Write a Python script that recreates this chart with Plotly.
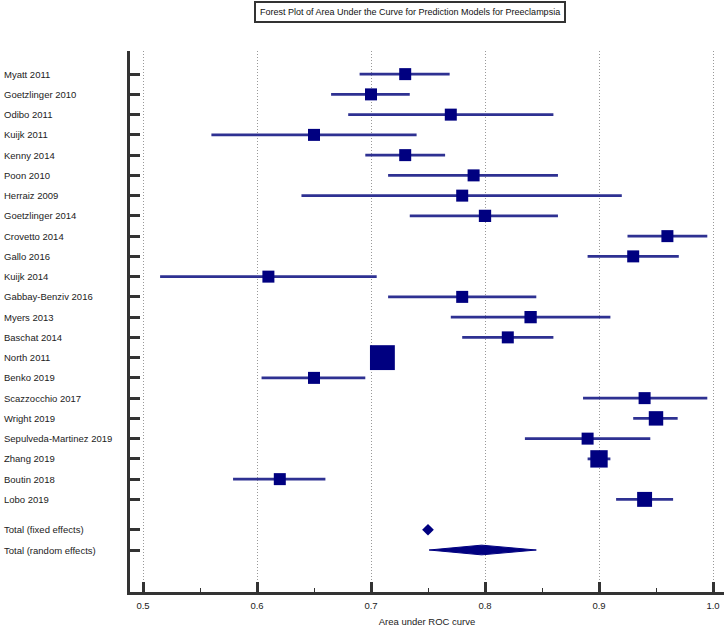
import plotly.graph_objects as go

studies = ["Myatt 2011", "Goetzlinger 2010", "Odibo 2011", "Kuijk 2011", "Kenny 2014",
           "Poon 2010", "Herraiz 2009", "Goetzlinger 2014", "Crovetto 2014", "Gallo 2016",
           "Kuijk 2014", "Gabbay-Benziv 2016", "Myers 2013", "Baschat 2014", "North 2011",
           "Benko 2019", "Scazzocchio 2017", "Wright 2019", "Sepulveda-Martinez 2019",
           "Zhang 2019", "Boutin 2018", "Lobo 2019"]
auc = [0.730, 0.700, 0.770, 0.650, 0.730, 0.790, 0.780, 0.800, 0.960, 0.930, 0.610,
       0.780, 0.840, 0.820, 0.710, 0.650, 0.940, 0.950, 0.890, 0.900, 0.620, 0.940]
ci_low = [0.690, 0.665, 0.680, 0.560, 0.695, 0.715, 0.639, 0.734, 0.925, 0.890, 0.515,
          0.715, 0.770, 0.780, 0.700, 0.604, 0.886, 0.930, 0.835, 0.890, 0.579, 0.915]
ci_high = [0.769, 0.734, 0.860, 0.740, 0.765, 0.864, 0.920, 0.864, 0.995, 0.970, 0.705,
           0.845, 0.910, 0.860, 0.720, 0.695, 0.995, 0.969, 0.945, 0.910, 0.660, 0.965]
weights = [1.0, 1.0, 1.0, 1.0, 1.0, 1.0, 1.0, 1.05, 1.0, 1.0, 1.0, 1.0, 1.05, 1.0, 4.3,
           1.0, 1.0, 1.45, 1.0, 2.1, 1.0, 1.55]

total_labels = ["Total (fixed effects)", "Total (random effects)"]
fixed_est = 0.750
random_est = 0.797
random_low = 0.751
random_high = 0.845

x_ticks = [0.5, 0.6, 0.7, 0.8, 0.9, 1.0]

# layout geometry
y_study = list(range(len(studies)))
y_fixed = len(studies) + 0.5
y_random = len(studies) + 1.5
all_y = y_study + [y_fixed, y_random]
all_labels = studies + total_labels

navy = "#000080"
line_col = "#2E3192"
font_family = "Liberation Sans, Arial"

fig = go.Figure()

# confidence interval lines (drawn first, below the boxes)
fig.add_trace(go.Scatter(
    x=auc, y=y_study, mode="markers",
    marker=dict(size=1, color="rgba(0,0,0,0)"),
    error_x=dict(type="data", symmetric=False,
                 array=[h - a for h, a in zip(ci_high, auc)],
                 arrayminus=[a - l for a, l in zip(auc, ci_low)],
                 width=0, thickness=2.8, color=line_col),
    showlegend=False, hoverinfo="skip"))

# study boxes
fig.add_trace(go.Scatter(
    x=auc, y=y_study, mode="markers",
    marker=dict(symbol="square", color=navy, opacity=1,
                size=[12 * w ** 0.5 for w in weights], line=dict(width=0)),
    showlegend=False, hoverinfo="skip"))

fig.add_trace(go.Scatter(
    x=[fixed_est], y=[y_fixed], mode="markers",
    marker=dict(symbol="diamond", color=navy, size=9, opacity=1),
    showlegend=False, hoverinfo="skip"))

h = 0.24
fig.add_trace(go.Scatter(
    x=[random_low, random_est, random_high, random_est, random_low],
    y=[y_random, y_random - h, y_random, y_random + h, y_random],
    mode="lines", fill="toself", fillcolor=navy, line=dict(color=navy, width=1),
    showlegend=False, hoverinfo="skip"))

L, R, T, B = 130, 4, 51, 35
W, H = 728, 631
px_per_x = 1140.0
x0 = 0.4886
x1 = x0 + (W - L - R) / px_per_x
px_per_row = 20.4
y_top = -(74.3 - T) / px_per_row
y_bot = (H - B - 74.3) / px_per_row
plot_w = W - L - R
plot_h = H - T - B

for lab, yy in zip(all_labels, all_y):
    fig.add_annotation(x=(2 - L) / plot_w, xref="paper", y=yy, yref="y",
                       text=lab, showarrow=False, xanchor="left", yanchor="middle",
                       font=dict(family=font_family, size=9.5, color="#222"))

fig.add_annotation(x=(409.5 - L) / plot_w, xref="paper",
                   y=(H - B - 12) / plot_h, yref="paper",
                   text="Forest Plot of Area Under the Curve for Prediction Models for Preeclampsia",
                   showarrow=False, xanchor="center", yanchor="middle",
                   font=dict(family=font_family, size=9, color="#111"),
                   bordercolor="#333", borderwidth=2, borderpad=4, bgcolor="white")

fig.update_layout(
    width=W, height=H,
    margin=dict(l=L, r=R, t=T, b=B),
    plot_bgcolor="white", paper_bgcolor="white",
    font=dict(family=font_family, size=10, color="#222"),
    xaxis=dict(range=[x0, x1], tickvals=x_ticks, ticktext=[f"{v:.1f}" for v in x_ticks],
               ticks="inside", ticklen=10, tickwidth=2.5, tickcolor="#333",
               showgrid=True, gridcolor="#999999", griddash="1px,2px", gridwidth=1,
               showline=True, linecolor="#333", linewidth=2.5, zeroline=False,
               minor=dict(ticks="inside", ticklen=4, tickwidth=1.2, tickcolor="#333",
                          tick0=0.55, dtick=0.1, showgrid=False),
               ticklabelstandoff=3,
               title=dict(text="Area under ROC curve", standoff=9,
                          font=dict(size=9.5, family=font_family)),
               tickfont=dict(size=9.5, family=font_family)),
    yaxis=dict(range=[y_bot, y_top], tickvals=all_y, showticklabels=False,
               ticks="inside", ticklen=10, tickwidth=3, tickcolor="#333",
               showgrid=False, zeroline=False, showline=True, linecolor="#333",
               linewidth=2.5),
)

fig.write_html("out.html", config={"displayModeBar": False},
               post_script="document.body.style.margin='0';document.body.style.overflow='hidden';")
